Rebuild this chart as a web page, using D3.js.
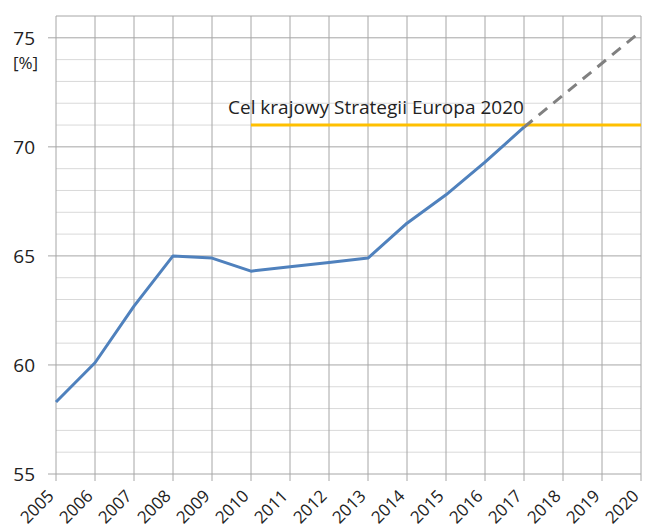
<!DOCTYPE html>
<html>
<head>
<meta charset="utf-8">
<script src="https://cdn.jsdelivr.net/npm/d3@7"></script>
<style>
  body { margin: 0; background: #fff; }
  svg text { font-family: "Open Sans", sans-serif; fill: #222; }
</style>
</head>
<body>
<div id="chart"></div>
<script>
const years = [2005, 2006, 2007, 2008, 2009, 2010, 2011, 2012, 2013, 2014, 2015, 2016, 2017, 2018, 2019, 2020];
const employment = [
    {year: 2005, value: 58.3}, {year: 2006, value: 60.1}, {year: 2007, value: 62.7},
    {year: 2008, value: 65.0}, {year: 2009, value: 64.9}, {year: 2010, value: 64.3},
    {year: 2011, value: 64.5}, {year: 2012, value: 64.7}, {year: 2013, value: 64.9},
    {year: 2014, value: 66.5}, {year: 2015, value: 67.8}, {year: 2016, value: 69.3},
    {year: 2017, value: 70.9}
];
const forecast = [{year: 2017, value: 70.9}, {year: 2020, value: 75.3}];
const target = [{year: 2010, value: 71.0}, {year: 2020, value: 71.0}];
const targetLabel = "Cel krajowy Strategii Europa 2020";
const yTicks = [55, 60, 65, 70, 75];
const unitLabel = "[%]";

const width = 646, height = 532;
const margin = { top: 16, right: 5, bottom: 58, left: 56 };

const svg = d3.select("#chart").append("svg")
    .attr("width", width)
    .attr("height", height);

const x = d3.scaleLinear()
    .domain([2005, 2020])
    .range([margin.left, width - margin.right]);

const y = d3.scaleLinear()
    .domain([55, 76])
    .range([height - margin.bottom, margin.top]);

// minor gridlines
svg.append("g").selectAll("line")
    .data(d3.range(56, 76).filter(v => v % 5 != 0))
    .join("line")
    .attr("x1", x(2005)).attr("x2", x(2020))
    .attr("y1", d => y(d)).attr("y2", d => y(d))
    .attr("stroke", "#d9d9d9").attr("stroke-width", 1);

// vertical gridlines with ticks
svg.append("g").selectAll("line")
    .data(years)
    .join("line")
    .attr("x1", d => x(d)).attr("x2", d => x(d))
    .attr("y1", y(76)).attr("y2", y(55) + 7)
    .attr("stroke", "#a6a6a6").attr("stroke-width", 1);

// major gridlines (+ top edge)
svg.append("g").selectAll("line")
    .data(yTicks.concat([76]))
    .join("line")
    .attr("x1", d => d == 76 ? x(2005) : x(2005) - 8).attr("x2", x(2020))
    .attr("y1", d => y(d)).attr("y2", d => y(d))
    .attr("stroke", "#a6a6a6").attr("stroke-width", 1);

// y labels
svg.append("g").selectAll("text")
    .data(yTicks)
    .join("text")
    .attr("x", 35)
    .attr("y", d => y(d))
    .attr("dy", "0.36em")
    .attr("text-anchor", "end")
    .attr("font-size", 19)
    .text(d => d);

svg.append("text")
    .attr("x", 13)
    .attr("y", 69)
    .attr("font-size", 17)
    .text(unitLabel);

// x labels
svg.append("g").selectAll("text")
    .data(years)
    .join("text")
    .attr("transform", d => `translate(${x(d) - 1},${y(55) + 23}) rotate(-45)`)
    .attr("text-anchor", "end")
    .attr("font-size", 17)
    .text(d => d);

const line = d3.line()
    .x(d => x(d.year))
    .y(d => y(d.value));

svg.append("path")
    .datum(target)
    .attr("d", line)
    .attr("fill", "none")
    .attr("stroke", "#ffc000")
    .attr("stroke-width", 3);

svg.append("path")
    .datum(forecast)
    .attr("d", line)
    .attr("fill", "none")
    .attr("stroke", "#808080")
    .attr("stroke-width", 3)
    .attr("stroke-dasharray", "11,8");

svg.append("path")
    .datum(employment)
    .attr("d", line)
    .attr("fill", "none")
    .attr("stroke", "#4f81bd")
    .attr("stroke-width", 3)
    .attr("stroke-linejoin", "round");

svg.append("text")
    .attr("x", 228)
    .attr("y", 114)
    .attr("font-size", 19)
    .text(targetLabel);
</script>
</body>
</html>
